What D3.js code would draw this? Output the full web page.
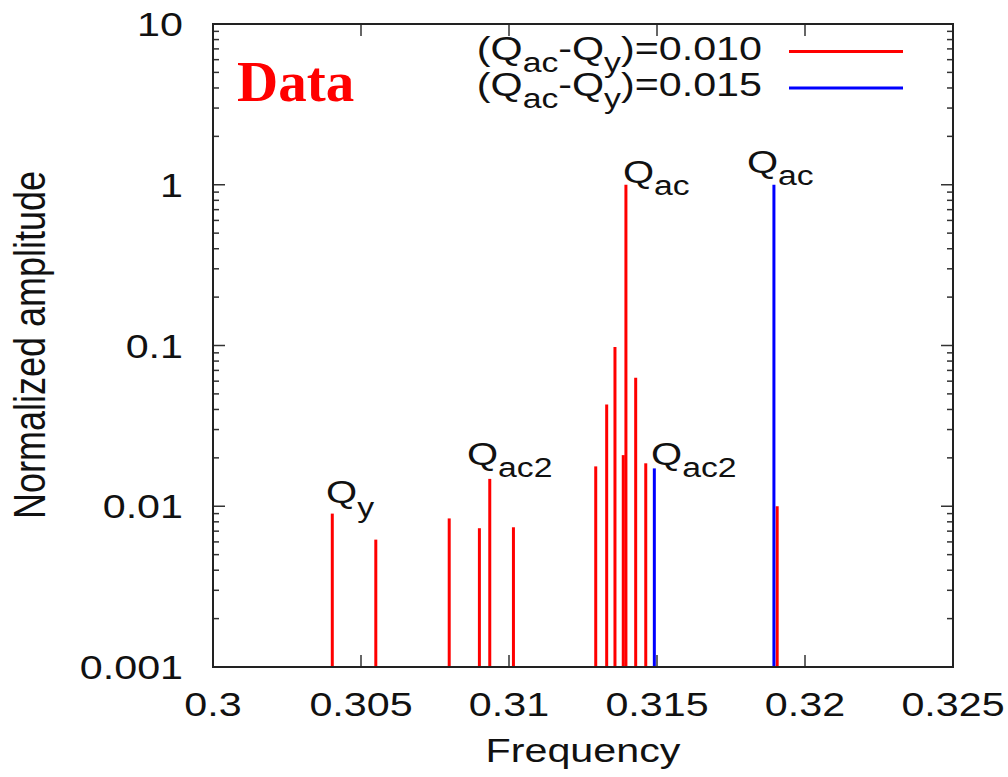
<!DOCTYPE html>
<meta charset="utf-8">
<script src="https://d3js.org/d3.v7.min.js"></script>
<style>
  body { margin: 0; background: #fff; }
  text { font-family: "Liberation Sans", Arial, sans-serif; }
</style>
<div id="chart"></div>
<script>

// red series: (Qac-Qy)=0.010
var redFreq = [0.30403, 0.3055, 0.30798, 0.3090, 0.30935, 0.31015, 0.31293, 0.3133, 0.31358, 0.31386, 0.31395, 0.31428, 0.31462, 0.31906];
var redAmp  = [0.0090, 0.0062, 0.0084, 0.0073, 0.0148, 0.0074, 0.0177, 0.043, 0.098, 0.0208, 1.0, 0.063, 0.0185, 0.0100];

// blue series: (Qac-Qy)=0.015
var blueFreq = [0.31491, 0.31895];
var blueAmp  = [0.0172, 1.0];

var xTicks = [0.3, 0.305, 0.31, 0.315, 0.32, 0.325];
var xTickLabels = ["0.3", "0.305", "0.31", "0.315", "0.32", "0.325"];
var yTicks = [0.001, 0.01, 0.1, 1, 10];
var yTickLabels = ["0.001", "0.01", "0.1", "1", "10"];

// peak annotations (main, subscript, freq, amp)
var peakMain = ["Q", "Q", "Q", "Q", "Q"];
var peakSub  = ["y", "ac2", "ac", "ac2", "ac"];
var peakFreq = [0.30382, 0.30858, 0.31385, 0.31480, 0.31804];
var peakAmp  = [0.01048, 0.01806, 1.025, 0.01806, 1.183];

var legendLabels = ["0.010", "0.015"];
var legendColors = ["#ff0000", "#0000ff"];

var W = 1008, H = 777;
var pLeft = 213, pRight = 953, pTop = 24, pBottom = 667;
var sx = 1.25; // glyphs in the picture are stretched horizontally

var svg = d3.select("#chart").append("svg")
  .attr("width", W).attr("height", H);

var x = d3.scaleLinear().domain([0.3, 0.325]).range([pLeft, pRight]);
var y = d3.scaleLog().domain([0.001, 10]).range([pBottom, pTop]);

// stretched text helper
function stext(px, py, anchor, size) {
  return svg.append("g")
    .attr("transform", "translate(" + px + "," + py + ") scale(" + sx + ",1)")
    .append("text")
      .attr("text-anchor", anchor)
      .style("font-size", size + "px")
      .attr("fill", "#111");
}

// ticks
var tickColor = "#333";
xTicks.forEach(function(t) {
  [[pBottom, pBottom - 12], [pTop, pTop + 12]].forEach(function(p) {
    svg.append("line")
      .attr("x1", x(t)).attr("x2", x(t))
      .attr("y1", p[0]).attr("y2", p[1])
      .attr("stroke", tickColor).attr("stroke-width", 1.5);
  });
});

var minor = [];
for (var e = -3; e < 1; e++) {
  for (var m = 2; m <= 9; m++) minor.push(m * Math.pow(10, e));
}
minor.forEach(function(v) {
  [[pLeft, pLeft + 6], [pRight, pRight - 6]].forEach(function(p) {
    svg.append("line")
      .attr("x1", p[0]).attr("x2", p[1])
      .attr("y1", y(v)).attr("y2", y(v))
      .attr("stroke", tickColor).attr("stroke-width", 1.5);
  });
});
yTicks.forEach(function(v) {
  [[pLeft, pLeft + 12], [pRight, pRight - 12]].forEach(function(p) {
    svg.append("line")
      .attr("x1", p[0]).attr("x2", p[1])
      .attr("y1", y(v)).attr("y2", y(v))
      .attr("stroke", tickColor).attr("stroke-width", 1.5);
  });
});

// bars
function bars(freq, amp, color) {
  svg.selectAll(null)
    .data(freq.map(function(f, i) { return {f: f, a: amp[i]}; }))
    .enter()
    .append("line")
      .attr("x1", function(d) { return x(d.f); })
      .attr("x2", function(d) { return x(d.f); })
      .attr("y1", y(0.001))
      .attr("y2", function(d) { return y(d.a); })
      .attr("stroke", color)
      .attr("stroke-width", 3);
}
bars(redFreq, redAmp, "#ff0000");
bars(blueFreq, blueAmp, "#0000ff");

// frame
svg.append("rect")
  .attr("x", pLeft).attr("y", pTop)
  .attr("width", pRight - pLeft).attr("height", pBottom - pTop)
  .attr("fill", "none").attr("stroke", "#222").attr("stroke-width", 2);

// tick labels
xTicks.forEach(function(t, i) {
  stext(x(t), 716, "middle", 33).text(xTickLabels[i]);
});
yTicks.forEach(function(v, i) {
  stext(183, y(v) + 12, "end", 33).text(yTickLabels[i]);
});

// axis titles
stext((pLeft + pRight) / 2, 762, "middle", 33).text("Frequency");
svg.append("g")
  .attr("transform", "translate(45,345) scale(" + sx + ",1) rotate(-90)")
  .append("text")
    .attr("text-anchor", "middle")
    .style("font-size", "36px")
    .attr("fill", "#111")
    .text("Normalized amplitude");

// peak labels
peakMain.forEach(function(q, i) {
  var t = stext(x(peakFreq[i]), y(peakAmp[i]), "start", 32);
  var off = peakSub[i] === "y" ? 14 : 12;
  t.append("tspan").text(q);
  t.append("tspan").attr("dy", off).style("font-size", "27px").text(peakSub[i]);
});

// legend
legendLabels.forEach(function(v, i) {
  var ly = 51.5 + i * 36.5;
  var t = stext(762, ly + 8, "end", 33);
  t.append("tspan").text("(Q");
  t.append("tspan").attr("dy", 12).style("font-size", "27px").text("ac");
  t.append("tspan").attr("dy", -12).text("-Q");
  t.append("tspan").attr("dy", 12).style("font-size", "27px").text("y");
  t.append("tspan").attr("dy", -12).text(")=" + v);
  svg.append("line")
    .attr("x1", 789).attr("x2", 903)
    .attr("y1", ly).attr("y2", ly)
    .attr("stroke", legendColors[i]).attr("stroke-width", 3);
});

// "Data" tag
svg.append("text")
  .attr("x", 237).attr("y", 101)
  .style("font-family", "'Liberation Serif', 'Times New Roman', serif")
  .style("font-weight", "bold")
  .style("font-size", "57px")
  .attr("fill", "#ff0000")
  .text("Data");

</script>
